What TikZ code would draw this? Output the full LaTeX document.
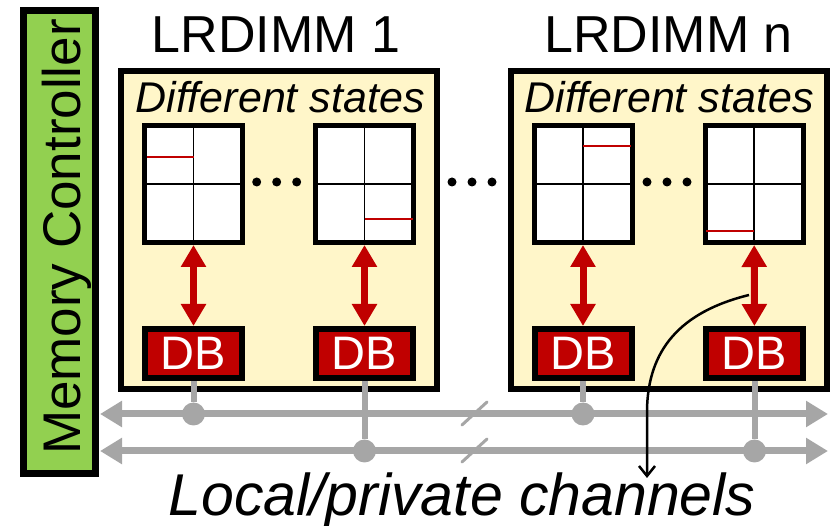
\documentclass[tikz,border=0pt]{standalone}
\usepackage{fontspec}
\setmainfont{Liberation Sans}
\usetikzlibrary{arrows.meta,calc}
\definecolor{mcgreen}{HTML}{92D050}
\definecolor{dimmyellow}{HTML}{FFF6C9}
\definecolor{dbred}{HTML}{C00000}
\definecolor{busgrey}{HTML}{A6A6A6}
\begin{document}
\begin{tikzpicture}[x=1pt,y=-1pt,
  mcbox/.style={draw=black, line width=7pt, fill=mcgreen, minimum width=72pt, minimum height=463pt, inner sep=0pt, outer sep=0pt},
  dimm/.style={draw=black, line width=6pt, fill=dimmyellow, minimum width=316pt, minimum height=318pt, inner sep=0pt, outer sep=0pt},
  chip/.style={draw=black, line width=5pt, fill=white, minimum width=98pt, minimum height=117pt, inner sep=0pt, outer sep=0pt},
  db/.style={draw=black, line width=6pt, fill=dbred, text=white, minimum width=97pt, minimum height=49pt, inner sep=0pt, outer sep=0pt, font=\fontsize{47}{47}\selectfont},
  title/.style={anchor=base, inner sep=0pt, font=\fontsize{52}{52}\selectfont},
  states/.style={anchor=base, inner sep=0pt, font=\fontsize{43}{43}\selectfont\itshape},
  grid/.style={draw=black, line width=1.5pt},
  state/.style={draw=dbred, line width=2.5pt},
  ellip/.style={circle, fill=black, minimum size=9pt, inner sep=0pt},
  link/.style={draw=dbred, line width=7pt, {Triangle[width=24pt,length=22pt]}-{Triangle[width=24pt,length=22pt]}},
  bus/.style={draw=busgrey, line width=7pt, {Triangle[width=25pt,length=22pt]}-{Triangle[width=25pt,length=22pt]}},
  tap/.style={draw=busgrey, line width=6pt},
  junction/.style={circle, fill=busgrey, minimum size=23pt, inner sep=0pt, outer sep=0pt},
  brk/.style={draw=busgrey, line width=3pt, line cap=round},
  pointer/.style={draw=black, line width=2.5pt, -{Straight Barb[length=10pt,width=16pt]}}
]
\useasboundingbox (0,0) rectangle (833,526);

% memory controller
\node[mcbox] (mc) at (59.5,242) {};
\node[rotate=90, anchor=base, inner sep=0pt, font=\fontsize{53}{53}\selectfont] (mclabel) at (80,237) {Memory Controller};

% module outlines and titles
\node[dimm] (d1) at (279,230) {};
\node[dimm] (dn) at (669,230) {};
\node[title] (t1) at (276,53) {LRDIMM 1};
\node[title] (tn) at (668.5,53) {LRDIMM n};
\node[states] (s1) at (280,113) {Different states};
\node[states] (sn) at (669,113) {Different states};

% chips with bank grids
\foreach \n/\x in {c11/193.5, c12/364.5, cn1/583, cn2/754} {
  \node[chip] (\n) at (\x,184) {};
  \draw[grid] (\n.north) -- (\n.south) (\n.west) -- (\n.east);
}
\draw[state] ($(c11.center)+(-47,-27)$) -- ($(c11.center)+(0,-27)$);
\draw[state] ($(c12.center)+(0,35)$) -- ($(c12.center)+(48,35)$);
\draw[state] ($(cn1.center)+(0,-38)$) -- ($(cn1.center)+(48,-38)$);
\draw[state] ($(cn2.center)+(-48,47)$) -- ($(cn2.center)+(0,47)$);

% ellipses
\foreach \x in {256.7, 276.7, 296.7, 452, 472, 492, 647, 667, 687}
  \node[ellip] at (\x,182) {};

% data buffers
\node[db] (b11) at (193.5,353.5) {DB};
\node[db] (b12) at (364.5,353.5) {DB};
\node[db] (bn1) at (583,353.5) {DB};
\node[db] (bn2) at (754.5,353.5) {DB};

% chip to buffer links
\draw[link, shorten <=2.5pt, shorten >=3pt] (c11) -- (b11);
\draw[link, shorten <=2.5pt, shorten >=3pt] (c12) -- (b12);
\draw[link, shorten <=2.5pt, shorten >=3pt] (cn1) -- (bn1);
\draw[link, shorten <=2.5pt, shorten >=3pt] (cn2) -- (bn2);

% channels
\coordinate (l1) at (100,414);
\coordinate (r1) at (828,414);
\coordinate (l2) at (100,451);
\coordinate (r2) at (828,451);
\draw[bus] (l1) -- (r1);
\draw[bus] (l2) -- (r2);

\node[junction] (j11) at (b11 |- l1) {};
\node[junction] (j12) at (b12 |- l2) {};
\node[junction] (jn1) at (bn1 |- l1) {};
\node[junction] (jn2) at (bn2 |- l2) {};
\draw[tap, shorten <=3pt] (b11) -- (j11);
\draw[tap, shorten <=3pt] (b12) -- (j12);
\draw[tap, shorten <=3pt] (bn1) -- (jn1);
\draw[tap, shorten <=3pt] (bn2) -- (jn2);

% break marks
\draw[brk] (462,425) -- (487,402);
\draw[brk] (462,462) -- (487,439);

% caption and pointer
\node[anchor=base, inner sep=0pt, font=\fontsize{59}{59}\selectfont\itshape] (lp) at (462,515) {Local/private channels};
\coordinate (ps) at (749,295);
\coordinate (pe) at (647,478);
\draw[pointer] (ps) .. controls (680,312) and (648,350) .. (647,410) -- (pe);
\end{tikzpicture}
\end{document}
